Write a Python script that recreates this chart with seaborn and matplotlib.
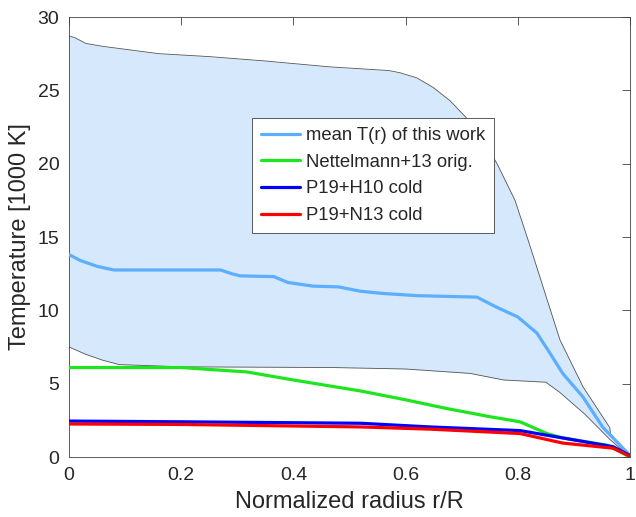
import numpy as np
import pandas as pd
import matplotlib
matplotlib.use("Agg")
import matplotlib.pyplot as plt
import seaborn as sns

# ---- data ----
band_x_up = [0.0, 0.01, 0.03, 0.06, 0.10, 0.16, 0.25, 0.35, 0.465, 0.57, 0.59, 0.62, 0.649, 0.679, 0.709, 0.735, 0.763, 0.795, 0.82, 0.845, 0.875, 0.916, 0.964, 0.965, 1.0]
band_upper = [28.7, 28.6, 28.2, 28.0, 27.8, 27.5, 27.3, 27.0, 26.6, 26.35, 26.2, 25.85, 25.2, 24.3, 23.1, 21.8, 20.0, 17.5, 14.6, 11.6, 8.0, 4.8, 2.0, 1.6, 0.0]
band_x_lo = [0.0, 0.03, 0.06, 0.09, 0.2, 0.47, 0.6, 0.715, 0.775, 0.85, 0.875, 0.92, 0.964, 1.0]
band_lower = [7.5, 7.0, 6.6, 6.3, 6.15, 6.1, 6.0, 5.7, 5.25, 5.1, 4.4, 2.9, 1.2, 0.0]

mean_x = [0.0, 0.02, 0.05, 0.08, 0.27, 0.29, 0.305, 0.365, 0.39, 0.435, 0.48, 0.52, 0.56, 0.62, 0.727, 0.763, 0.80, 0.834, 0.857, 0.88, 0.916, 0.952, 0.97, 1.0]
mean_T = [13.8, 13.4, 13.0, 12.75, 12.75, 12.5, 12.35, 12.3, 11.9, 11.65, 11.6, 11.3, 11.15, 11.0, 10.9, 10.2, 9.55, 8.45, 7.1, 5.7, 4.1, 2.0, 1.3, 0.1]

nett_x = [0.0, 0.2, 0.317, 0.4, 0.52, 0.6, 0.674, 0.75, 0.804, 0.852, 0.88, 0.96, 1.0]
nett_T = [6.1, 6.1, 5.8, 5.25, 4.5, 3.9, 3.3, 2.75, 2.4, 1.6, 1.3, 0.8, 0.0]

h10_x = [0.0, 0.2, 0.52, 0.643, 0.804, 0.88, 0.97, 1.0]
h10_T = [2.45, 2.4, 2.3, 2.05, 1.8, 1.3, 0.7, 0.1]

n13_x = [0.0, 0.2, 0.52, 0.643, 0.804, 0.88, 0.97, 1.0]
n13_T = [2.25, 2.22, 2.05, 1.9, 1.6, 0.95, 0.6, 0.05]

labels = ["mean T(r) of this work", "Nettelmann+13 orig.", "P19+H10 cold", "P19+N13 cold"]
colors = ["#5caeff", "#1ee61e", "#0000ff", "#ff0000"]

sns.set_style("white")
plt.rcParams['font.family'] = ['Liberation Sans', 'DejaVu Sans']

fig = plt.figure(figsize=(6.36, 5.17), dpi=100)
ax = fig.add_axes([69/636, 60/517, 561/636, 440/517])

# shaded band
grid = np.union1d(band_x_up, band_x_lo)
up_i = np.interp(grid, band_x_up, band_upper)
lo_i = np.interp(grid, band_x_lo, band_lower)
ax.fill_between(grid, lo_i, up_i, color="#d6e8fb", lw=0, zorder=1)
ax.plot(band_x_up, band_upper, color="#555555", lw=0.6, zorder=2)
ax.plot(band_x_lo, band_lower, color="#555555", lw=0.6, zorder=2)

series = [(mean_x, mean_T), (nett_x, nett_T), (h10_x, h10_T), (n13_x, n13_T)]
for (xs, ys), lab, c in zip(series, labels, colors):
    df = pd.DataFrame({"r": xs, "T": ys})
    sns.lineplot(data=df, x="r", y="T", ax=ax, color=c, lw=2.3, label=lab, zorder=3, sort=False)

ax.set_xlim(0, 1)
ax.set_ylim(0, 30)
ax.set_xticks([0, 0.2, 0.4, 0.6, 0.8, 1])
ax.set_xticklabels(["0", "0.2", "0.4", "0.6", "0.8", "1"])
ax.set_yticks([0, 5, 10, 15, 20, 25, 30])
ax.tick_params(direction="in", length=6, width=0.6, colors="#404040", labelsize=14,
               top=True, right=True, labelcolor="#262626", pad=7)
for s in ax.spines.values():
    s.set_color("#404040")
    s.set_linewidth(0.6)
ax.set_xlabel("Normalized radius r/R", fontsize=17, color="#262626", labelpad=5)
ax.set_ylabel("Temperature [1000 K]", fontsize=17, color="#262626", labelpad=5)

leg = ax.legend(loc="upper left", bbox_to_anchor=(183/561, (457-118)/440), fontsize=13.3,
                frameon=True, fancybox=False, edgecolor="#404040", framealpha=1,
                handlelength=2.1, borderpad=0.5, labelspacing=0.52, handletextpad=0.3,
                borderaxespad=0)
leg.get_frame().set_linewidth(0.6)

fig.savefig("out.png", dpi=100)
